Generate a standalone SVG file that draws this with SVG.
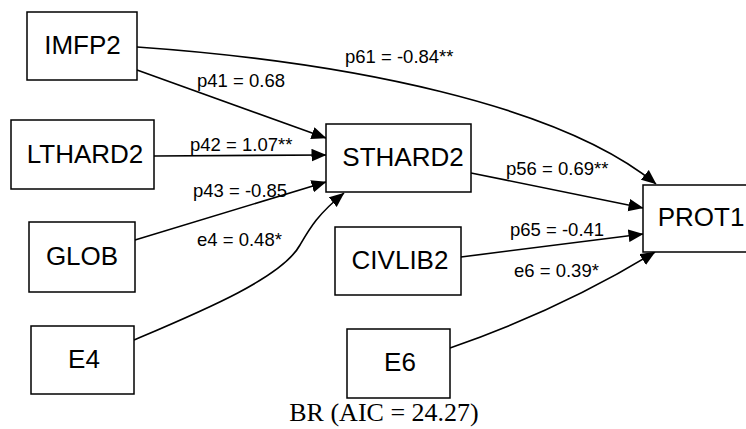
<svg xmlns="http://www.w3.org/2000/svg" width="746" height="429" viewBox="0 0 746 429">
<style>
.box{fill:#fff;stroke:#000;stroke-width:1.5}
.nt{font-family:"Liberation Sans",Arial,sans-serif;font-size:26px;fill:#000;text-anchor:middle}
.el{font-family:"Liberation Sans",Arial,sans-serif;font-size:18.5px;fill:#000}
.edge{fill:none;stroke:#000;stroke-width:1.6}
.cap{font-family:"Liberation Serif","Times New Roman",serif;font-size:26px;fill:#000;text-anchor:middle}
</style>
<defs>
<marker id="arr" markerUnits="userSpaceOnUse" markerWidth="16" markerHeight="13" refX="14.5" refY="6.3" orient="auto">
<path d="M0,0 L15,6.3 L0,12.6 z" fill="#000"/>
</marker>
</defs>
<rect width="746" height="429" fill="#fff"/>
<g id="connectors">
<path class="edge" d="M137,47 C350,62 560,105 656,184" marker-end="url(#arr)"/>
<path class="edge" d="M137,70 L326,138" marker-end="url(#arr)"/>
<path class="edge" d="M154,156 L326,155" marker-end="url(#arr)"/>
<path class="edge" d="M135,240 L326,182" marker-end="url(#arr)"/>
<path class="edge" d="M134,340 C200,312 282,278 300,245 C310,228 318,214 344,193" marker-end="url(#arr)"/>
<path class="edge" d="M471,173 L643,208" marker-end="url(#arr)"/>
<path class="edge" d="M461,257 L643,234" marker-end="url(#arr)"/>
<path class="edge" d="M450,348 Q560,310 655,252" marker-end="url(#arr)"/>
<text class="el" x="345" y="63">p61 = -0.84**</text>
<text class="el" x="197" y="87">p41 = 0.68</text>
<text class="el" x="190" y="151">p42 = 1.07**</text>
<text class="el" x="193" y="197">p43 = -0.85</text>
<text class="el" x="197" y="246">e4 = 0.48*</text>
<text class="el" x="506" y="175">p56 = 0.69**</text>
<text class="el" x="510" y="236">p65 = -0.41</text>
<text class="el" x="514" y="277">e6 = 0.39*</text>
</g>
<g id="IMFP2"><rect class="box" x="27" y="12" width="110" height="68"/><text class="nt" x="82.5" y="54">IMFP2</text></g>
<g id="LTHARD2"><rect class="box" x="11" y="120" width="143" height="69"/><text class="nt" x="85" y="163">LTHARD2</text></g>
<g id="STHARD2"><rect class="box" x="326" y="124" width="145" height="68"/><text class="nt" x="403" y="166">STHARD2</text></g>
<g id="GLOB"><rect class="box" x="29" y="222" width="106" height="70"/><text class="nt" x="82" y="265">GLOB</text></g>
<g id="E4"><rect class="box" x="31" y="326" width="103" height="68"/><text class="nt" x="84" y="368">E4</text></g>
<g id="CIVLIB2"><rect class="box" x="335" y="227" width="126" height="68"/><text class="nt" x="400" y="269">CIVLIB2</text></g>
<g id="E6"><rect class="box" x="347" y="329" width="103" height="69"/><text class="nt" x="400" y="371">E6</text></g>
<g id="PROT1"><rect class="box" x="643" y="185" width="120" height="67"/><text class="nt" x="701" y="226">PROT1</text></g>
<text class="cap" x="384" y="421">BR (AIC = 24.27)</text>
</svg>
